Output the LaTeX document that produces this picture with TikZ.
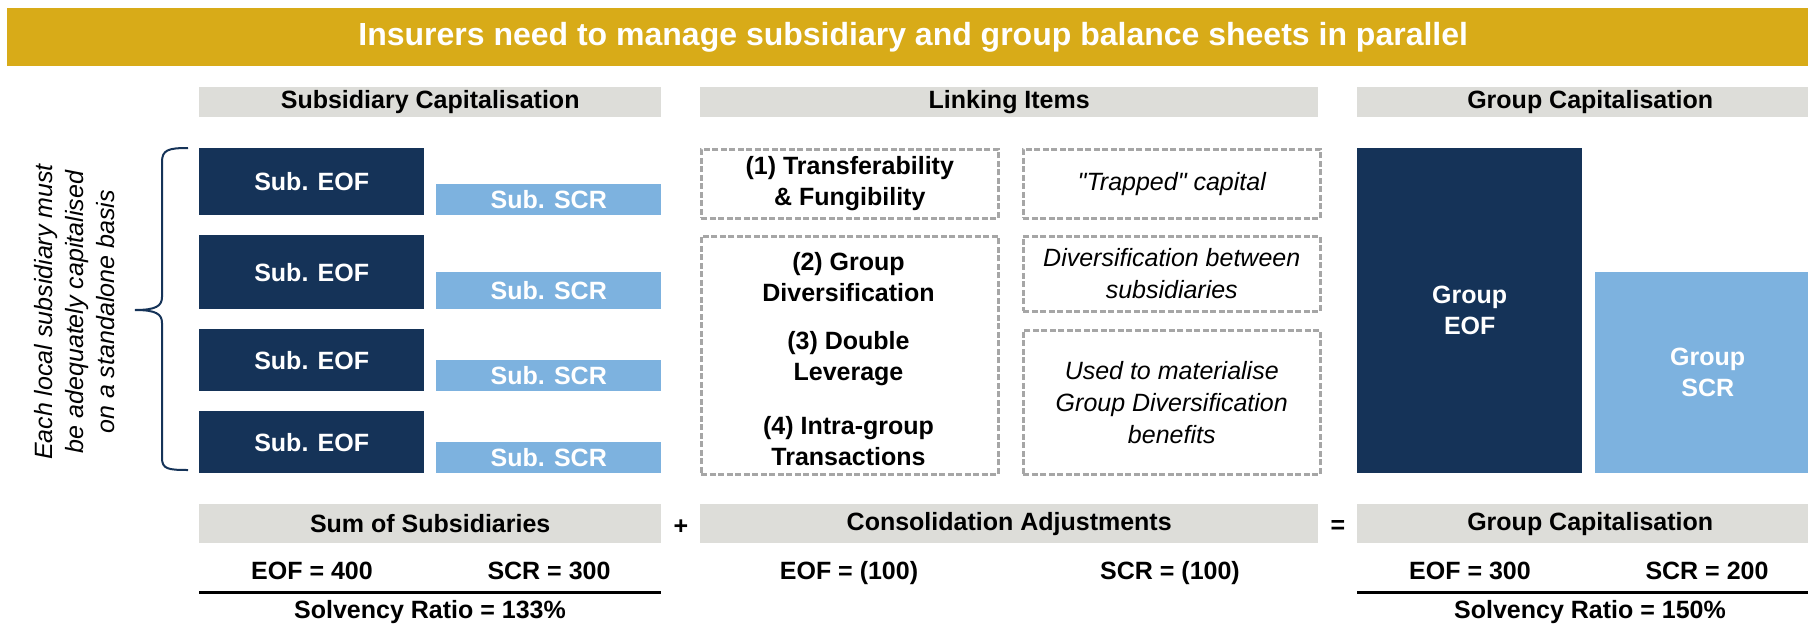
\documentclass[tikz,border=0pt]{standalone}
\usepackage{fontspec}
\setmainfont{Liberation Sans}
\definecolor{titlegold}{RGB}{216, 171, 24}
\definecolor{subnavy}{RGB}{21, 51, 88}
\definecolor{scrblue}{RGB}{125, 178, 223}
\definecolor{headgray}{RGB}{221, 221, 217}
\definecolor{dashgray}{RGB}{166, 166, 166}

\begin{document}
\begin{tikzpicture}[x=1pt, y=-1pt,
  every node/.style={inner sep=0pt, align=center, font=\fontsize{25}{31}\selectfont\bfseries},
  box/.style={anchor=north west},
  headbox/.style={box, fill=headgray},
  eofbox/.style={box, fill=subnavy, text=white, minimum width=225pt},
  scrbox/.style={box, fill=scrblue, text=white, minimum width=225pt},
  linkbox/.style={box, draw=dashgray, dash pattern=on 6pt off 2.5pt, line width=2.5pt, minimum width=297pt},
  notebox/.style={font=\fontsize{25}{32}\selectfont\itshape}]
  \useasboundingbox (0,0) rectangle (1808,624);
  \clip (0,0) rectangle (1808,624);

  % banner
  \node[box, fill=titlegold, text=white, minimum width=1812pt, minimum height=58pt,
    font=\fontsize{32}{38}\selectfont\bfseries] (title) at (7,8)
    {Insurers need to manage subsidiary and group balance sheets in parallel};

  % column headers
  \node[headbox, minimum width=462pt, minimum height=30pt] (subhead) at (199,87) {Subsidiary Capitalisation};
  \node[headbox, minimum width=618pt, minimum height=30pt] (linkhead) at (700,87) {Linking Items};
  \node[headbox, minimum width=466pt, minimum height=30pt] (grouphead) at (1357,87) {Group Capitalisation};

  % subsidiaries
  \foreach \k/\ya/\ha/\yb/\hb in {1/148/67/184/31, 2/235/74/272/37, 3/329/62/360/31, 4/411/62/442/31} {
    \node[eofbox, minimum height=\ha pt] (eof\k) at (199,\ya) {Sub. EOF};
    \node[scrbox, minimum height=\hb pt] (scr\k) at (436,\yb) {Sub. SCR};
  }
  \draw[subnavy, line width=2pt] (188,148) .. controls (168,148) and (162,150) .. (162,162) -- (162,297)
    .. controls (162,306) and (156,310) .. (135,310) .. controls (156,310) and (162,314) .. (162,323)
    -- (162,458) .. controls (162,469) and (168,470) .. (188,470);
  \node[rotate=90, font=\fontsize{25}{31}\selectfont\itshape] (basis) at (75,312)
    {Each local subsidiary must\\be adequately capitalised\\on a standalone basis};

  % linking items
  \node[linkbox, minimum height=69pt] (link1) at (700,148) {(1) Transferability\\\& Fungibility};
  \node[linkbox, minimum height=238pt] (link2) at (700,235) {};
  \node (item2) at (848.5,277.5) {(2) Group\\Diversification};
  \node (item3) at (848.5,359) {(3) Double\\Leverage};
  \node (item4) at (848.5,441) {(4) Intra-group\\Transactions};
  \node[linkbox, notebox, minimum height=69pt] (trapped) at (1022,148) {\textquotedbl Trapped\textquotedbl{} capital};
  \node[linkbox, notebox, minimum height=75pt] (between) at (1022,235) {Diversification between\\subsidiaries};
  \node[linkbox, notebox, minimum height=144pt] (materialise) at (1022,329)
    {Used to materialise\\Group Diversification\\benefits};

  % group
  \node[eofbox, minimum height=325pt] (groupeof) at (1357,148) {Group\\EOF};
  \node[scrbox, minimum height=201pt] (groupscr) at (1595,272) {Group\\SCR};

  % bottom sums
  \node[headbox, minimum width=462pt, minimum height=39pt] (sumhead) at (199,504) {Sum of Subsidiaries};
  \node (plus) at (681,527) {+};
  \node[headbox, minimum width=618pt, minimum height=39pt] (conshead) at (700,504) {Consolidation Adjustments};
  \node (equals) at (1338,527) {=};
  \node[headbox, minimum width=466pt, minimum height=39pt] (totalhead) at (1357,504) {Group Capitalisation};
  \foreach \x/\val in {312/EOF = 400, 549/SCR = 300, 849/EOF = (100), 1170/SCR = (100), 1470/EOF = 300, 1707/SCR = 200}
    \node[anchor=base] (val\x) at (\x,579) {\val};
  \draw[line width=3pt] (199,592) -- (661,592);
  \draw[line width=3pt] (1357,592) -- (1823,592);
  \node[anchor=base] (subratio) at (430,618) {Solvency Ratio = 133\%};
  \node[anchor=base] (groupratio) at (1590,618) {Solvency Ratio = 150\%};
\end{tikzpicture}
\end{document}
